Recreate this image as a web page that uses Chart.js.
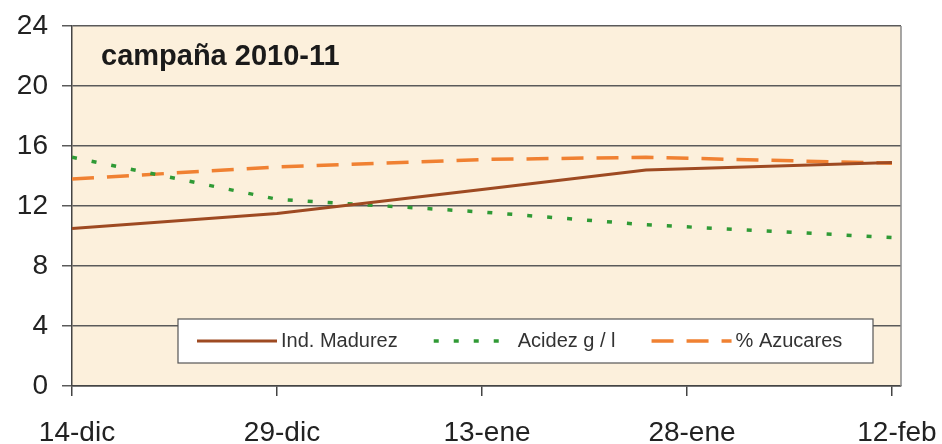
<!DOCTYPE html>
<html lang="es">
<head>
<meta charset="utf-8">
<title>campaña 2010-11</title>
<script src="https://cdn.jsdelivr.net/npm/chart.js@4.4.1/dist/chart.umd.min.js"></script>
<style>
    html, body { margin: 0; padding: 0; background: #ffffff; }
    #contenedor { position: relative; width: 942px; height: 444px; }
</style>
</head>
<body>
<div id="contenedor"><canvas id="grafico"></canvas></div>
<script>
// Dias contados desde el 14-dic (fechas de muestreo)
const dias = [0, 15, 30, 42, 60];
const madurez = [10.5, 11.5, 13.1, 14.4, 14.9];
const acidez = [15.25, 12.45, 11.6, 10.75, 9.9];
const azucares = [13.8, 14.6, 15.1, 15.25, 14.85];

// Marcas del eje X
const diasEje = [0, 15, 30, 45, 60];
const fechasEje = ["14-dic", "29-dic", "13-ene", "28-ene", "12-feb"];
const valoresEjeY = [0, 4, 8, 12, 16, 20, 24];

const titulo = "campaña 2010-11";
const fuente = "'Liberation Sans', Arial, sans-serif";

function puntos(valores) {
    return dias.map((d, i) => ({ x: d, y: valores[i] }));
}

// Fondo beige del area de trazado y borde derecho
const fondoPlugin = {
    id: "fondo",
    beforeDraw(chart) {
        const { ctx, chartArea: a } = chart;
        ctx.save();
        ctx.fillStyle = "#fcf0dc";
        ctx.fillRect(a.left, a.top, a.right - a.left, a.bottom - a.top);
        ctx.restore();
    },
    afterDraw(chart) {
        const { ctx, chartArea: a } = chart;
        ctx.save();
        ctx.strokeStyle = "#8a8a8a";
        ctx.lineWidth = 1.5;
        ctx.beginPath();
        ctx.moveTo(a.right, a.top);
        ctx.lineTo(a.right, a.bottom);
        ctx.stroke();
        ctx.restore();
    }
};

// Titulo dentro del grafico y leyenda en recuadro blanco
const leyendaPlugin = {
    id: "leyenda",
    afterDraw(chart) {
        const ctx = chart.ctx;
        ctx.save();
        ctx.fillStyle = "#1a1a1a";
        ctx.font = "bold 29px " + fuente;
        ctx.textBaseline = "middle";
        ctx.fillText(titulo, 101, 57);

        const caja = { x: 178, y: 319, w: 695, h: 44 };
        ctx.fillStyle = "#ffffff";
        ctx.fillRect(caja.x, caja.y, caja.w, caja.h);
        ctx.strokeStyle = "#555555";
        ctx.lineWidth = 1.2;
        ctx.strokeRect(caja.x, caja.y, caja.w, caja.h);

        ctx.font = "20px " + fuente;
        const yMedio = caja.y + caja.h / 2;
        let x = 197;
        chart.data.datasets.forEach(ds => {
            ctx.strokeStyle = ds.borderColor;
            ctx.lineWidth = ds.borderWidth;
            ctx.setLineDash(ds.borderDash || []);
            ctx.beginPath();
            ctx.moveTo(x, yMedio);
            ctx.lineTo(x + 80, yMedio);
            ctx.stroke();
            ctx.setLineDash([]);
            ctx.fillStyle = "#333333";
            ctx.fillText(ds.label, x + 84, yMedio);
            x += 84 + ctx.measureText(ds.label).width + 36;
        });
        ctx.restore();
    }
};

const ctxGrafico = document.getElementById("grafico").getContext("2d");
new Chart(ctxGrafico, {
    type: "line",
    data: {
        datasets: [
            {
                label: "Ind. Madurez",
                data: puntos(madurez),
                borderColor: "#9e4a22",
                borderWidth: 3.2,
                pointRadius: 0,
                tension: 0
            },
            {
                label: "Acidez g / l",
                data: puntos(acidez),
                borderColor: "#2f9a35",
                borderWidth: 3.5,
                borderDash: [5, 15],
                pointRadius: 0,
                tension: 0
            },
            {
                label: "% Azucares",
                data: puntos(azucares),
                borderColor: "#f08132",
                borderWidth: 3.5,
                borderDash: [22, 13],
                pointRadius: 0,
                tension: 0
            }
        ]
    },
    options: {
        responsive: true,
        maintainAspectRatio: false,
        animation: false,
        layout: { padding: { left: 0, right: 41, top: 26, bottom: 0 } },
        plugins: {
            legend: { display: false },
            tooltip: { enabled: false }
        },
        scales: {
            x: {
                type: "linear",
                min: 0,
                max: 60.66,
                afterBuildTicks: s => { s.ticks = diasEje.map(v => ({ value: v })); },
                afterFit: s => {
                    s.height = 58;
                    s.paddingLeft = 0;
                    s.paddingRight = 0;
                },
                grid: {
                    drawOnChartArea: false,
                    drawTicks: true,
                    tickLength: 10,
                    color: "#444444",
                    lineWidth: 1.5
                },
                border: { display: true, color: "#444444", width: 1.5 },
                ticks: {
                    padding: 20,
                    labelOffset: 5,
                    maxRotation: 0,
                    color: "#222222",
                    font: { family: fuente, size: 28 },
                    callback: v => fechasEje[diasEje.indexOf(v)]
                }
            },
            y: {
                min: 0,
                max: 24,
                afterBuildTicks: s => { s.ticks = valoresEjeY.map(v => ({ value: v })); },
                afterFit: s => {
                    s.width = 72;
                    s.paddingTop = 0;
                    s.paddingBottom = 0;
                },
                grid: {
                    color: "#5a5a5a",
                    lineWidth: 1.5,
                    tickLength: 10
                },
                border: { display: true, color: "#444444", width: 1.5 },
                ticks: {
                    padding: 14,
                    color: "#222222",
                    font: { family: fuente, size: 28 }
                }
            }
        }
    },
    plugins: [fondoPlugin, leyendaPlugin]
});
</script>
</body>
</html>
